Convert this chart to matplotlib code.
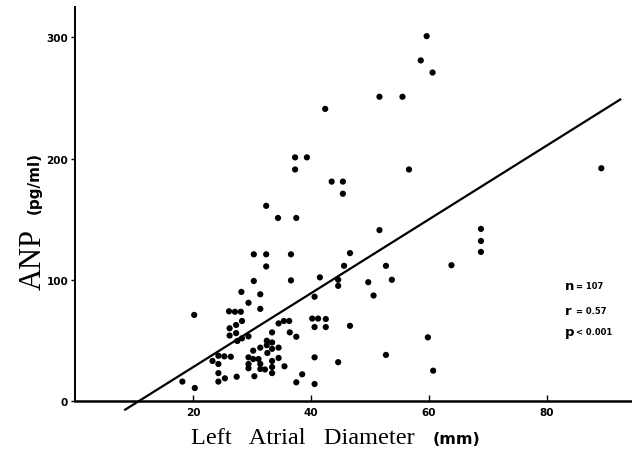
import numpy as np
import matplotlib
matplotlib.use("Agg")
import matplotlib.pyplot as plt

# left atrial diameter (mm) vs ANP (pg/ml)
diametro = [59.6, 58.6, 60.6, 51.6, 55.5, 42.4, 37.3, 39.3, 37.3, 56.6,
            89.2, 43.5, 45.4, 45.4, 32.4, 34.4, 37.5, 51.6, 68.8, 68.8,
            68.8, 30.3, 32.4, 36.6, 46.6, 63.8, 32.4, 45.6, 52.7, 41.5,
            44.6, 44.6, 30.3, 36.6, 49.7, 53.7, 50.6, 40.6, 28.2, 31.4,
            29.4, 31.4, 20.2, 26.1, 27.1, 28.1, 28.3, 26.2, 27.3, 27.3,
            26.2, 28.3, 27.5, 29.4, 34.5, 35.4, 36.3, 40.2, 41.2, 42.5,
            40.6, 42.5, 46.6, 33.4, 36.4, 37.5, 59.8, 40.6, 52.7, 44.6,
            38.5, 40.6, 60.7, 37.5, 35.5, 34.5, 23.3, 24.3, 25.3, 26.4,
            24.3, 24.3, 25.4, 24.3, 27.4, 18.2, 20.3, 30.4, 29.4, 29.4,
            29.4, 30.2, 30.2, 31.1, 31.4, 31.4, 31.4, 32.5, 32.5, 33.4,
            34.5, 33.4, 32.6, 33.4, 32.2, 33.4, 33.4]
anp = [301, 281, 271, 251, 251, 241, 201, 201, 191, 191,
       192, 181, 181, 171, 161, 151, 151, 141, 142, 132,
       123, 121, 121, 121, 122, 112, 111, 111.5, 111.5, 102,
       100, 95, 99, 99.5, 98, 100, 87, 86, 90, 88,
       81, 76, 71, 74, 73.6, 73.6, 66, 60, 62.7, 56,
       54, 51.7, 49.5, 53.3, 64, 66, 66, 68, 68, 67.6,
       61, 61, 62, 56.6, 56.6, 53, 52.5, 36, 38, 32,
       22, 14, 25, 15.4, 28.6, 35.5, 33, 37.3, 36.8, 36.5,
       30.5, 23, 18.7, 16, 20, 16, 10.7, 20.4, 36, 30.5,
       27, 41.5, 34.6, 34.6, 44, 30.5, 26.4, 49.7, 46, 48.3,
       44, 43, 39.6, 33, 26, 28, 23]

# regression line
pendiente = 3.05
intercepto = -33.1
x_recta = [8.5, 92.4]

xticks = [20, 40, 60, 80]
yticks = [0, 100, 200, 300]

fig = plt.figure(figsize=(6.32, 4.56), dpi=100)
ax = fig.add_axes([0.1187, 0.0919, 0.8813, 0.8904])

ax.scatter(diametro, anp, s=20, color="black", edgecolors="none", zorder=3)
xr = np.array(x_recta)
ax.plot(xr, pendiente * xr + intercepto, color="black", lw=1.6)

ax.set_xlim(0, 94.4)
ax.set_ylim(-10, 325)
ax.spines["top"].set_visible(False)
ax.spines["right"].set_visible(False)
ax.spines["bottom"].set_position(("data", 0))
ax.spines["left"].set_bounds(0, 325)
ax.spines["bottom"].set_linewidth(1.8)
ax.spines["left"].set_linewidth(1.4)

ax.set_xticks(xticks)
ax.set_yticks(yticks)
ax.tick_params(axis="x", direction="in", length=4, width=1, pad=4)
ax.tick_params(axis="y", direction="out", length=3, width=1, pad=2)
for lab in ax.get_xticklabels() + ax.get_yticklabels():
    lab.set_fontweight("bold")
    lab.set_fontsize(7.5)

# axis titles
fig.text(0.302, 0.027, "Left   Atrial   Diameter", family="Liberation Serif",
         fontsize=17.5, ha="left", va="baseline")
fig.text(0.685, 0.027, "(mm)", fontsize=11.5, fontweight="bold",
         ha="left", va="baseline")
fig.text(0.052, 0.365, "ANP", family="Liberation Serif", fontsize=22,
         rotation=90, ha="center", va="bottom")
fig.text(0.054, 0.53, "(pg/ml)", fontsize=11, fontweight="bold",
         rotation=90, ha="center", va="bottom")

# stats
stats = [("n", "= 107", 95), ("r", "= 0.57", 75), ("p", "< 0.001", 57)]
for letra, valor, yy in stats:
    ax.text(83, yy, letra, fontsize=9.5, fontweight="bold", va="center")
    ax.text(84.9, yy, valor, fontsize=6, fontweight="bold", va="center",
            family="Liberation Sans Narrow")

fig.savefig("out.png", dpi=100)
